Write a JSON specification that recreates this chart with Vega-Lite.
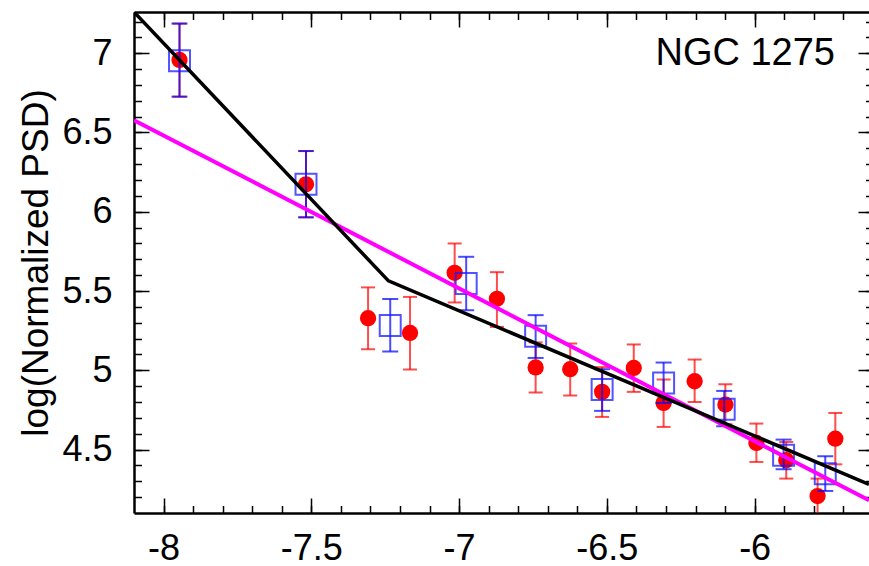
{
  "$schema": "https://vega.github.io/schema/vega-lite/v6.json",
  "width": 735,
  "height": 501,
  "autosize": "none",
  "padding": {"left": 134, "top": 12, "right": 0, "bottom": 53},
  "background": "white",
  "config": {"view": {"stroke": null}, "font": "Liberation Sans"},
  "title": {"text": "NGC 1275", "anchor": "end", "frame": "group", "fontSize": 38, "fontWeight": "normal", "font": "Liberation Sans", "color": "black", "baseline": "alphabetic", "offset": 0, "dy": 92, "dx": -34},
  "datasets": {
    "red": [
      {"x": -7.946, "y": 6.958, "lo": 6.726, "hi": 7.187},
      {"x": -7.518, "y": 6.173, "lo": 5.965, "hi": 6.383},
      {"x": -7.308, "y": 5.329, "lo": 5.133, "hi": 5.523},
      {"x": -7.166, "y": 5.236, "lo": 5.005, "hi": 5.463},
      {"x": -7.015, "y": 5.615, "lo": 5.428, "hi": 5.8},
      {"x": -6.872, "y": 5.451, "lo": 5.274, "hi": 5.619},
      {"x": -6.741, "y": 5.018, "lo": 4.86, "hi": 5.176},
      {"x": -6.624, "y": 5.007, "lo": 4.841, "hi": 5.169},
      {"x": -6.516, "y": 4.864, "lo": 4.706, "hi": 5.02},
      {"x": -6.409, "y": 5.015, "lo": 4.864, "hi": 5.163},
      {"x": -6.308, "y": 4.794, "lo": 4.643, "hi": 4.942},
      {"x": -6.203, "y": 4.931, "lo": 4.8, "hi": 5.068},
      {"x": -6.099, "y": 4.784, "lo": 4.66, "hi": 4.912},
      {"x": -5.994, "y": 4.542, "lo": 4.422, "hi": 4.664},
      {"x": -5.893, "y": 4.433, "lo": 4.317, "hi": 4.548},
      {"x": -5.787, "y": 4.207, "lo": 4.08, "hi": 4.317},
      {"x": -5.727, "y": 4.569, "lo": 4.407, "hi": 4.731}
    ],
    "blue": [
      {"x": -7.946, "y": 6.953, "lo": 6.726, "hi": 7.187},
      {"x": -7.518, "y": 6.173, "lo": 5.965, "hi": 6.383},
      {"x": -7.233, "y": 5.283, "lo": 5.119, "hi": 5.449},
      {"x": -6.976, "y": 5.548, "lo": 5.379, "hi": 5.716},
      {"x": -6.741, "y": 5.215, "lo": 5.078, "hi": 5.348},
      {"x": -6.516, "y": 4.879, "lo": 4.744, "hi": 5.007},
      {"x": -6.308, "y": 4.92, "lo": 4.794, "hi": 5.049},
      {"x": -6.103, "y": 4.754, "lo": 4.647, "hi": 4.87},
      {"x": -5.902, "y": 4.464, "lo": 4.376, "hi": 4.563},
      {"x": -5.761, "y": 4.348, "lo": 4.239, "hi": 4.458}
    ],
    "black": [
      {"x": -8.1, "y": 7.26},
      {"x": -7.239, "y": 5.564},
      {"x": -5.613, "y": 4.281}
    ],
    "magenta": [
      {"x": -8.1, "y": 6.577},
      {"x": -5.613, "y": 4.18}
    ]
  },
  "resolve": {"axis": {"x": "independent", "y": "independent"}},
  "layer": [
    {
      "data": {"name": "red"},
      "mark": {"type": "rule", "color": "#ff0000", "opacity": 0.7, "strokeWidth": 2, "clip": true},
      "encoding": {
        "x": {"field": "x", "type": "quantitative", "scale": {"domain": [-8.1, -5.613], "nice": false, "zero": false},
          "axis": {"orient": "bottom", "values": [-8, -7.5, -7, -6.5, -6], "ticks": false, "tickSize": 0, "domain": true, "domainColor": "black", "domainWidth": 2.5, "labelFontSize": 36, "labelFont": "Liberation Sans", "labelColor": "black", "labelPadding": 18, "labelExpr": "'' + datum.value", "labelFlush": false, "title": null, "grid": false}},
        "y": {"field": "lo", "type": "quantitative", "scale": {"domain": [4.1, 7.26], "nice": false, "zero": false},
          "axis": {"orient": "left", "values": [4.5, 5, 5.5, 6, 6.5, 7], "ticks": false, "tickSize": 0, "domain": true, "domainColor": "black", "domainWidth": 2.5, "labelFontSize": 36, "labelFont": "Liberation Sans", "labelColor": "black", "labelPadding": 22, "labelExpr": "'' + datum.value", "labelFlush": false, "title": "log(Normalized PSD)", "titleFont": "Liberation Sans", "titleFontSize": 37, "titleFontWeight": "normal", "titleColor": "black", "titlePadding": 6, "grid": false}},
        "y2": {"field": "hi"}
      }
    },
    {
      "data": {"name": "red"},
      "mark": {"type": "tick", "orient": "horizontal", "color": "#ff0000", "opacity": 0.7, "size": 14, "thickness": 2, "clip": true},
      "encoding": {
        "x": {"field": "x", "type": "quantitative",
          "axis": {"orient": "bottom", "values": [-8, -7.5, -7, -6.5, -6], "labels": false, "tickSize": -15, "tickWidth": 1.5, "tickColor": "black", "domain": false, "title": null, "grid": false}},
        "y": {"field": "lo", "type": "quantitative",
          "axis": {"orient": "left", "values": [4.5, 5, 5.5, 6, 6.5, 7], "labels": false, "tickSize": -15, "tickWidth": 1.5, "tickColor": "black", "domain": false, "title": null, "grid": false}}
      }
    },
    {
      "data": {"name": "red"},
      "mark": {"type": "tick", "orient": "horizontal", "color": "#ff0000", "opacity": 0.7, "size": 14, "thickness": 2, "clip": true},
      "encoding": {
        "x": {"field": "x", "type": "quantitative",
          "axis": {"orient": "bottom", "values": [-8.0, -7.9, -7.8, -7.7, -7.6, -7.5, -7.4, -7.3, -7.2, -7.1, -7.0, -6.9, -6.8, -6.7, -6.6, -6.5, -6.4, -6.3, -6.2, -6.1, -6.0, -5.9, -5.8, -5.7], "labels": false, "tickSize": -7.5, "tickWidth": 1.5, "tickColor": "black", "domain": false, "title": null, "grid": false}},
        "y": {"field": "hi", "type": "quantitative",
          "axis": {"orient": "left", "values": [4.2, 4.3, 4.4, 4.5, 4.6, 4.7, 4.8, 4.9, 5.0, 5.1, 5.2, 5.3, 5.4, 5.5, 5.6, 5.7, 5.8, 5.9, 6.0, 6.1, 6.2, 6.3, 6.4, 6.5, 6.6, 6.7, 6.8, 6.9, 7.0, 7.1, 7.2], "labels": false, "tickSize": -7.5, "tickWidth": 1.5, "tickColor": "black", "domain": false, "title": null, "grid": false}}
      }
    },
    {
      "data": {"name": "red"},
      "mark": {"type": "point", "shape": "circle", "filled": true, "color": "#ff0000", "opacity": 1, "size": 265},
      "encoding": {
        "x": {"field": "x", "type": "quantitative",
          "axis": {"orient": "top", "values": [-8, -7.5, -7, -6.5, -6], "labels": false, "tickSize": -15, "tickWidth": 1.5, "tickColor": "black", "domain": true, "domainColor": "black", "domainWidth": 2.5, "title": null, "grid": false}},
        "y": {"field": "y", "type": "quantitative",
          "axis": {"orient": "right", "offset": 4, "values": [4.5, 5, 5.5, 6, 6.5, 7], "labels": false, "tickSize": -15, "tickWidth": 1.5, "tickColor": "black", "domain": false, "title": null, "grid": false}}
      }
    },
    {
      "data": {"name": "blue"},
      "mark": {"type": "rule", "color": "#0000ff", "opacity": 0.7, "strokeWidth": 2},
      "encoding": {
        "x": {"field": "x", "type": "quantitative",
          "axis": {"orient": "top", "values": [-8.0, -7.9, -7.8, -7.7, -7.6, -7.5, -7.4, -7.3, -7.2, -7.1, -7.0, -6.9, -6.8, -6.7, -6.6, -6.5, -6.4, -6.3, -6.2, -6.1, -6.0, -5.9, -5.8, -5.7], "labels": false, "tickSize": -7.5, "tickWidth": 1.5, "tickColor": "black", "domain": false, "title": null, "grid": false}},
        "y": {"field": "lo", "type": "quantitative",
          "axis": {"orient": "right", "offset": 4, "values": [4.2, 4.3, 4.4, 4.5, 4.6, 4.7, 4.8, 4.9, 5.0, 5.1, 5.2, 5.3, 5.4, 5.5, 5.6, 5.7, 5.8, 5.9, 6.0, 6.1, 6.2, 6.3, 6.4, 6.5, 6.6, 6.7, 6.8, 6.9, 7.0, 7.1, 7.2], "labels": false, "tickSize": -7.5, "tickWidth": 1.5, "tickColor": "black", "domain": false, "title": null, "grid": false}},
        "y2": {"field": "hi"}
      }
    },
    {
      "data": {"name": "blue"},
      "mark": {"type": "tick", "orient": "horizontal", "color": "#0000ff", "opacity": 0.7, "size": 16, "thickness": 2},
      "encoding": {
        "x": {"field": "x", "type": "quantitative", "axis": null},
        "y": {"field": "lo", "type": "quantitative", "axis": null}
      }
    },
    {
      "data": {"name": "blue"},
      "mark": {"type": "tick", "orient": "horizontal", "color": "#0000ff", "opacity": 0.7, "size": 16, "thickness": 2},
      "encoding": {
        "x": {"field": "x", "type": "quantitative", "axis": null},
        "y": {"field": "hi", "type": "quantitative", "axis": null}
      }
    },
    {
      "data": {"name": "blue"},
      "mark": {"type": "point", "shape": "square", "filled": false, "color": "#1a1aff", "opacity": 0.75, "strokeWidth": 2, "size": 440},
      "encoding": {
        "x": {"field": "x", "type": "quantitative", "axis": null},
        "y": {"field": "y", "type": "quantitative", "axis": null}
      }
    },
    {
      "data": {"name": "magenta"},
      "mark": {"type": "line", "color": "#ff00ff", "strokeWidth": 4, "clip": true},
      "encoding": {
        "x": {"field": "x", "type": "quantitative", "axis": null},
        "y": {"field": "y", "type": "quantitative", "axis": null}
      }
    },
    {
      "data": {"name": "black"},
      "mark": {"type": "line", "color": "#000000", "strokeWidth": 3.5, "clip": true},
      "encoding": {
        "x": {"field": "x", "type": "quantitative", "axis": null},
        "y": {"field": "y", "type": "quantitative", "axis": null}
      }
    }
  ]
}
